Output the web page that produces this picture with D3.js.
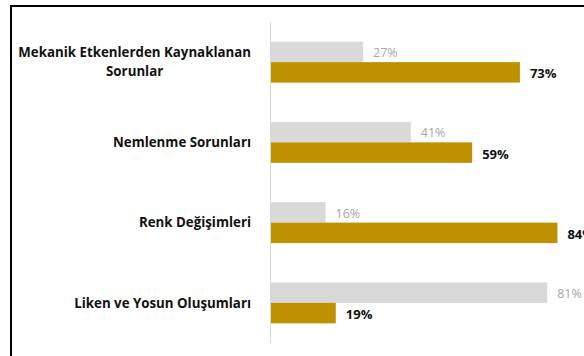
<!DOCTYPE html>
<html>
<head>
<meta charset="utf-8">
<script src="https://cdn.jsdelivr.net/npm/d3@7"></script>
<style>
  html, body { margin: 0; padding: 0; background: #fff; }
  svg { display: block; }
</style>
</head>
<body>
<svg id="chart" width="584" height="356"></svg>
<script>
// Category labels (multi-line labels are split into lines)
const categories = [
  ["Mekanik Etkenlerden Kaynaklanan", "Sorunlar"],
  ["Nemlenme Sorunları"],
  ["Renk Değişimleri"],
  ["Liken ve Yosun Oluşumları"]
];
// Two series, in percent
const seriesNames = ["Hayır", "Evet"];
const greyValues = [27, 41, 16, 81];
const goldValues = [73, 59, 84, 19];

const width = 584, height = 356;
const font = "'Open Sans', 'Noto Sans', sans-serif";
const svg = d3.select("#chart");

// Frame around the chart area
svg.append("rect")
  .attr("x", 11).attr("y", 6)
  .attr("width", width + 20).attr("height", height + 20)
  .attr("fill", "none").attr("stroke", "#000").attr("stroke-width", 2);

const x = d3.scaleLinear().domain([0, 100]).range([271, 612]);
const y = d3.scaleBand()
  .domain(d3.range(categories.length))
  .range([22, 343])
  .paddingInner(0.49)
  .paddingOuter(0.245);
const ySub = d3.scaleBand().domain(seriesNames).range([0, y.bandwidth()]);

const rows = categories.map((c, i) => ({
  i, label: c, values: [greyValues[i], goldValues[i]]
}));

const fills = ["#d9d9d9", "#bf9000"];

const g = svg.selectAll("g.row").data(rows).join("g")
  .attr("class", "row")
  .attr("transform", d => `translate(0,${y(d.i)})`);

g.selectAll("rect.bar")
  .data(d => d.values.map((v, k) => ({ v, k })))
  .join("rect")
  .attr("class", "bar")
  .attr("x", x(0))
  .attr("y", d => ySub(seriesNames[d.k]))
  .attr("width", d => x(d.v) - x(0))
  .attr("height", ySub.bandwidth())
  .attr("fill", d => fills[d.k]);

// Value labels
g.selectAll("text.val")
  .data(d => d.values.map((v, k) => ({ v, k })))
  .join("text")
  .attr("class", "val")
  .attr("x", d => x(d.v) + 10)
  .attr("y", d => ySub(seriesNames[d.k]) + ySub.bandwidth() / 2 + (d.k === 0 ? 5.2 : 6))
  .attr("font-family", font)
  .attr("font-size", d => d.k === 0 ? 12.5 : 13)
  .attr("font-weight", d => d.k === 0 ? "normal" : "bold")
  .attr("fill", d => d.k === 0 ? "#a6a6a6" : "#111")
  .text(d => d.v + "%");

// Vertical axis line
svg.append("line")
  .attr("x1", x(0) - 0.5).attr("x2", x(0) - 0.5)
  .attr("y1", y.range()[0]).attr("y2", y.range()[1])
  .attr("stroke", "#d9d9d9").attr("stroke-width", 1);

// Category labels: block right-aligned at the axis, lines centred within the block
const lineH = 19;
g.each(function(d) {
  const grp = d3.select(this);
  const t = grp.append("text")
    .attr("font-family", font)
    .attr("font-size", 13.3)
    .attr("font-weight", "bold")
    .attr("fill", "#111")
    .attr("text-anchor", "middle");
  const n = d.label.length;
  const spans = d.label.map((line, k) =>
    t.append("tspan")
      .attr("y", y.bandwidth() / 2 + 4.7 + (k - (n - 1) / 2) * lineH)
      .text(line));
  const w = d3.max(spans.map(s => s.node().getComputedTextLength()));
  spans.forEach(s => s.attr("x", 251 - w / 2));
});
</script>
</body>
</html>
